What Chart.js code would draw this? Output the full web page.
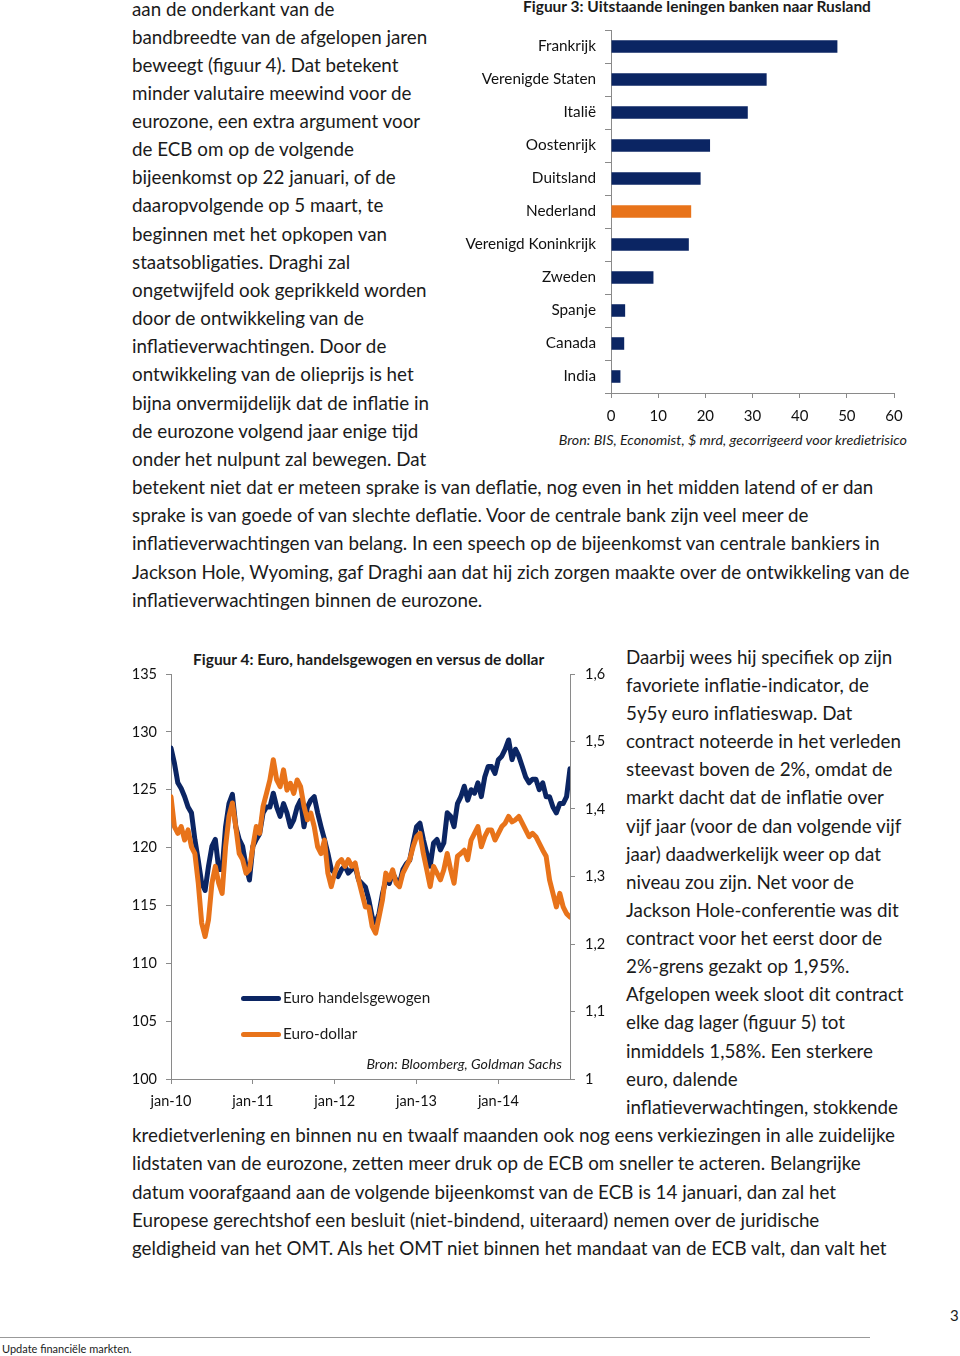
<!DOCTYPE html>
<html>
<head>
<meta charset="utf-8">
<script src="https://cdn.jsdelivr.net/npm/chart.js@4.4.1/dist/chart.umd.min.js"></script>
<style>
  html, body { margin: 0; padding: 0; background: #fff; }
  body { width: 960px; height: 1356px; position: relative; overflow: hidden; font-family: Lato, "Open Sans", sans-serif; color: #1b1b1b; }
  .ln { position: absolute; white-space: nowrap; font-size: 18.8px; line-height: 28.2px; }
  .abs { position: absolute; white-space: nowrap; }
  canvas { position: absolute; }
  .swatch { position: absolute; height: 5px; border-radius: 3px; }
</style>
</head>
<body>
<div id="text"></div>

<div class="abs" style="left:523px; top:-3px; font-size:15.5px; font-weight:bold;">Figuur 3: Uitstaande leningen banken naar Rusland</div>
<canvas id="barChart" width="460" height="410" style="left:460px; top:20px;"></canvas>
<div class="abs" style="right:53px; top:431px; font-size:14.3px; font-style:italic;">Bron: BIS, Economist, $ mrd, gecorrigeerd voor kredietrisico</div>

<div class="abs" style="left:193px; top:650px; font-size:15.5px; font-weight:bold;">Figuur 4: Euro, handelsgewogen en versus de dollar</div>
<canvas id="lineChart" width="500" height="480" style="left:120px; top:640px;"></canvas>
<div class="swatch" style="left:241px; top:996px; width:40px; background:#0b2563;"></div>
<div class="abs" style="left:283px; top:988px; font-size:15.3px;">Euro handelsgewogen</div>
<div class="swatch" style="left:241px; top:1032px; width:40px; background:#e8731a;"></div>
<div class="abs" style="left:283px; top:1024px; font-size:15.3px;">Euro-dollar</div>
<div class="abs" style="right:398px; top:1055px; font-size:14.2px; font-style:italic;">Bron: Bloomberg, Goldman Sachs</div>

<div class="abs" style="left:950px; top:1306px; font-size:15px;">3</div>
<div class="abs" style="left:0; top:1337px; width:870px; border-top:1px solid #999;"></div>
<div class="abs" style="left:2px; top:1342px; font-size:11px;">Update financiële markten.</div>

<script>
"use strict";

const countries = ["Frankrijk", "Verenigde Staten", "Italië", "Oostenrijk", "Duitsland", "Nederland",
  "Verenigd Koninkrijk", "Zweden", "Spanje", "Canada", "India"];
const loans = [48, 33, 29, 21, 19, 17, 16.5, 9, 3, 2.8, 2];

const yearLabels = ["jan-10", "jan-11", "jan-12", "jan-13", "jan-14"];

// half-monthly readings, jan 2010 .. nov 2014
const euroTradeWeighted = [
  128.6, 127.3, 125.6, 125.1, 124.4, 123.5, 123.0, 120.7, 118.9, 116.9, 116.3, 118.4,
  120.1, 120.7, 118.1, 118.1, 121.8, 123.8, 124.6, 121.8, 120.7, 120.1, 118.4, 117.2,
  120.1, 120.7, 121.2, 123.0, 123.5, 123.5, 124.7, 123.5, 122.7, 123.8, 123.0, 121.8,
  122.4, 123.5, 124.1, 121.8, 123.5, 124.1, 124.4, 123.0, 121.8, 120.7, 119.5, 118.1,
  117.8, 117.5, 118.1, 118.4, 117.8, 118.1, 118.4, 117.2, 116.9, 116.6, 115.5, 114.0,
  113.5, 114.3, 116.0, 117.2, 116.9, 117.8, 117.2, 116.9, 118.1, 118.6, 118.9, 120.4,
  121.8, 122.1, 120.7, 119.5, 118.4, 120.4, 120.7, 119.8, 120.4, 123.0, 122.7, 121.8,
  123.8, 124.4, 125.3, 124.1, 125.0, 124.7, 125.6, 124.4, 126.1, 127.0, 127.0, 126.4,
  127.6, 127.9, 128.5, 129.3, 127.6, 128.5, 127.9, 127.0, 126.1, 125.6, 125.9, 125.9,
  125.0, 125.6, 124.4, 124.4, 123.5, 123.0, 123.8, 123.8, 124.4, 126.8
];
const euroDollar = [
  1.418, 1.374, 1.364, 1.374, 1.354, 1.369, 1.344, 1.334, 1.290, 1.231, 1.211, 1.236,
  1.290, 1.315, 1.290, 1.275, 1.344, 1.389, 1.409, 1.374, 1.334, 1.325, 1.305, 1.310,
  1.344, 1.374, 1.364, 1.404, 1.423, 1.443, 1.473, 1.443, 1.433, 1.458, 1.428, 1.438,
  1.423, 1.443, 1.433, 1.404, 1.384, 1.394, 1.374, 1.344, 1.334, 1.354, 1.305, 1.285,
  1.305, 1.320, 1.325, 1.315, 1.325, 1.315, 1.320, 1.295, 1.275, 1.255, 1.255, 1.226,
  1.216, 1.240, 1.265, 1.305, 1.295, 1.310, 1.290, 1.285, 1.305, 1.315, 1.325, 1.344,
  1.359, 1.364, 1.334, 1.310, 1.285, 1.315, 1.305, 1.295, 1.310, 1.334, 1.310, 1.290,
  1.330, 1.334, 1.339, 1.325, 1.354, 1.364, 1.374, 1.344, 1.359, 1.369, 1.369, 1.354,
  1.364, 1.374, 1.379, 1.389, 1.381, 1.384, 1.389, 1.379, 1.369, 1.359, 1.364, 1.359,
  1.349, 1.339, 1.330, 1.295, 1.275, 1.255, 1.275, 1.255, 1.245, 1.240
];

const textLines = [
  [132, 9, "aan de onderkant van de"],
  [132, 37, "bandbreedte van de afgelopen jaren"],
  [132, 65, "beweegt (figuur 4). Dat betekent"],
  [132, 93, "minder valutaire meewind voor de"],
  [132, 121, "eurozone, een extra argument voor"],
  [132, 149, "de ECB om op de volgende"],
  [132, 177, "bijeenkomst op 22 januari, of de"],
  [132, 205, "daaropvolgende op 5 maart, te"],
  [132, 234, "beginnen met het opkopen van"],
  [132, 262, "staatsobligaties. Draghi zal"],
  [132, 290, "ongetwijfeld ook geprikkeld worden"],
  [132, 318, "door de ontwikkeling van de"],
  [132, 346, "inflatieverwachtingen. Door de"],
  [132, 374, "ontwikkeling van de olieprijs is het"],
  [132, 403, "bijna onvermijdelijk dat de inflatie in"],
  [132, 431, "de eurozone volgend jaar enige tijd"],
  [132, 459, "onder het nulpunt zal bewegen. Dat"],
  [132, 487, "betekent niet dat er meteen sprake is van deflatie, nog even in het midden latend of er dan"],
  [132, 515, "sprake is van goede of van slechte deflatie. Voor de centrale bank zijn veel meer de"],
  [132, 543, "inflatieverwachtingen van belang. In een speech op de bijeenkomst van centrale bankiers in"],
  [132, 572, "Jackson Hole, Wyoming, gaf Draghi aan dat hij zich zorgen maakte over de ontwikkeling van de"],
  [132, 600, "inflatieverwachtingen binnen de eurozone."],
  [626, 657, "Daarbij wees hij specifiek op zijn"],
  [626, 685, "favoriete inflatie-indicator, de"],
  [626, 713, "5y5y euro inflatieswap. Dat"],
  [626, 741, "contract noteerde in het verleden"],
  [626, 769, "steevast boven de 2%, omdat de"],
  [626, 797, "markt dacht dat de inflatie over"],
  [626, 826, "vijf jaar (voor de dan volgende vijf"],
  [626, 854, "jaar) daadwerkelijk weer op dat"],
  [626, 882, "niveau zou zijn. Net voor de"],
  [626, 910, "Jackson Hole-conferentie was dit"],
  [626, 938, "contract voor het eerst door de"],
  [626, 966, "2%-grens gezakt op 1,95%."],
  [626, 994, "Afgelopen week sloot dit contract"],
  [626, 1022, "elke dag lager (figuur 5) tot"],
  [626, 1051, "inmiddels 1,58%. Een sterkere"],
  [626, 1079, "euro, dalende"],
  [626, 1107, "inflatieverwachtingen, stokkende"],
  [132, 1135, "kredietverlening en binnen nu en twaalf maanden ook nog eens verkiezingen in alle zuidelijke"],
  [132, 1163, "lidstaten van de eurozone, zetten meer druk op de ECB om sneller te acteren. Belangrijke"],
  [132, 1192, "datum voorafgaand aan de volgende bijeenkomst van de ECB is 14 januari, dan zal het"],
  [132, 1220, "Europese gerechtshof een besluit (niet-bindend, uiteraard) nemen over de juridische"],
  [132, 1248, "geldigheid van het OMT. Als het OMT niet binnen het mandaat van de ECB valt, dan valt het"]
];

const textBox = document.getElementById("text");
textLines.forEach(([x, y, s]) => {
  const d = document.createElement("div");
  d.className = "ln";
  d.style.left = x + "px";
  d.style.top = (y - 14.1) + "px";
  d.textContent = s;
  textBox.appendChild(d);
});

const navy = "#0b2563";
const orange = "#e8731a";
const axisGrey = "#8a8a8a";
const tickFont = { family: "Lato", size: 14.5 };

new Chart(document.getElementById("barChart"), {
  type: "bar",
  data: {
    labels: countries,
    datasets: [
      {
        data: loans,
        backgroundColor: countries.map((c) => (c === "Nederland" ? orange : navy)),
        barPercentage: 0.38,
        categoryPercentage: 1
      }
    ]
  },
  options: {
    indexAxis: "y",
    responsive: false,
    animation: false,
    layout: { padding: { top: 10, right: 26, left: 0, bottom: 0 } },
    plugins: { legend: { display: false }, tooltip: { enabled: false } },
    scales: {
      x: {
        min: 0,
        max: 60,
        ticks: { stepSize: 10, color: "#111", font: { family: "Lato", size: 15 }, padding: 9 },
        grid: { drawOnChartArea: false, tickLength: 5, color: axisGrey },
        border: { color: axisGrey },
        afterFit: (s) => { s.height = 37; }
      },
      y: {
        ticks: { color: "#111", font: { family: "Lato", size: 15.3 }, padding: 9 },
        grid: { drawOnChartArea: false, tickLength: 6, color: axisGrey, offset: true },
        border: { color: axisGrey },
        afterFit: (s) => {
          s.width = 151;
          s.paddingTop = 0;
          s.paddingBottom = 0;
        }
      }
    }
  }
});

const toPoints = (arr) => arr.map((v, i) => ({ x: i / 2, y: v }));

new Chart(document.getElementById("lineChart"), {
  type: "line",
  data: {
    datasets: [
      {
        label: "Euro handelsgewogen",
        data: toPoints(euroTradeWeighted),
        yAxisID: "y",
        borderColor: navy,
        borderWidth: 5,
        pointRadius: 0,
        order: 2
      },
      {
        label: "Euro-dollar",
        data: toPoints(euroDollar),
        yAxisID: "y1",
        borderColor: orange,
        borderWidth: 5,
        pointRadius: 0,
        order: 1
      }
    ]
  },
  options: {
    responsive: false,
    animation: false,
    layout: { padding: { top: 34, right: 0, left: 0, bottom: 0 } },
    plugins: { legend: { display: false }, tooltip: { enabled: false } },
    elements: { line: { borderJoinStyle: "round", borderCapStyle: "round" } },
    scales: {
      x: {
        type: "linear",
        min: 0,
        max: (euroDollar.length - 1) / 2,
        ticks: {
          stepSize: 12,
          includeBounds: false,
          color: "#111",
          font: tickFont,
          padding: 9,
          callback: (v) => yearLabels[v / 12] || ""
        },
        grid: { drawOnChartArea: false, tickLength: 5, color: axisGrey },
        border: { color: axisGrey },
        afterFit: (s) => { s.height = 41; }
      },
      y: {
        position: "left",
        min: 100,
        max: 135,
        ticks: { stepSize: 5, color: "#111", font: tickFont, padding: 9 },
        grid: { drawOnChartArea: false, tickLength: 5, color: axisGrey },
        border: { color: axisGrey },
        afterFit: (s) => { s.width = 51; }
      },
      y1: {
        position: "right",
        min: 1,
        max: 1.6,
        ticks: {
          stepSize: 0.1,
          color: "#111",
          font: tickFont,
          padding: 10,
          callback: (v) => String(Math.round(v * 10) / 10).replace(".", ",")
        },
        grid: { drawOnChartArea: false, tickLength: 5, color: axisGrey },
        border: { color: axisGrey },
        afterFit: (s) => { s.width = 50; }
      }
    }
  }
});
</script>
</body>
</html>
